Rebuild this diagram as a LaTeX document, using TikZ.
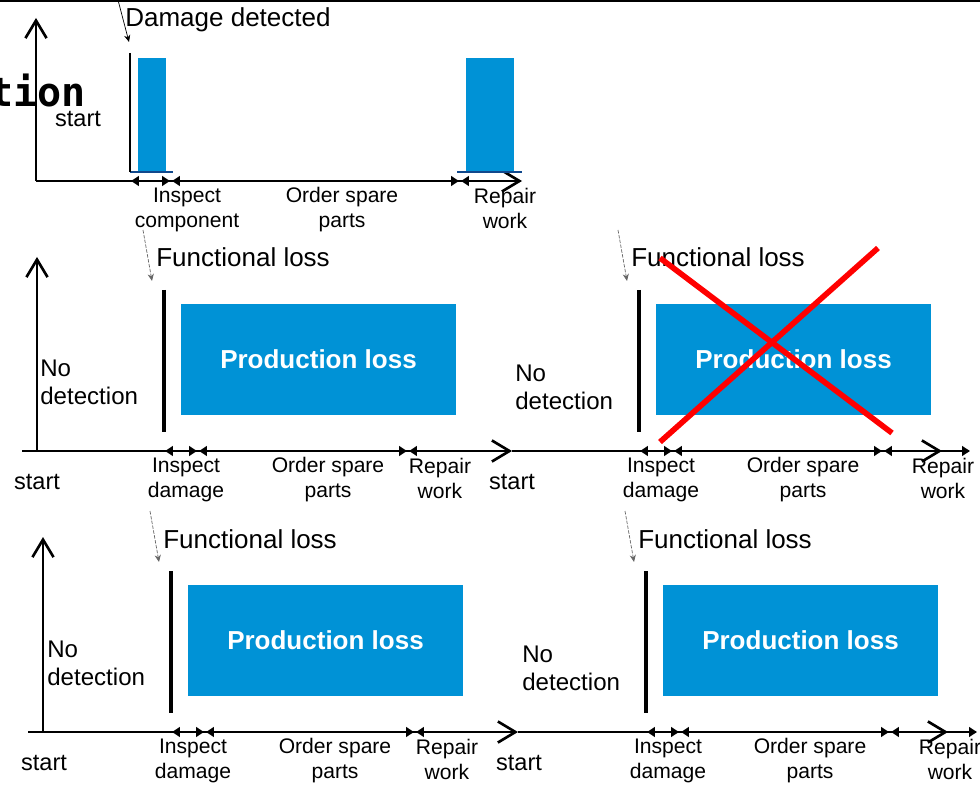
\documentclass[tikz,border=0pt]{standalone}
\usepackage{fontspec}
\setmainfont{Liberation Sans}
\newfontfamily\codefont{DejaVu Sans Mono}
\usetikzlibrary{arrows.meta}

\definecolor{lossblue}{RGB}{0,146,214}
\definecolor{stripnavy}{RGB}{16,72,140}
\definecolor{crossred}{RGB}{255,0,0}

\tikzset{
  chevron/.tip={Straight Barb[length=10pt,width=12pt]},
  dimtip/.tip={Triangle[length=4.5pt,width=5.5pt]},
  axisline/.style={line width=1.5pt, -chevron},
  dimboth/.style={line width=1.5pt, dimtip-dimtip},
  dimleft/.style={line width=1.5pt, dimtip-},
  annoline/.style={line width=0.4pt, black!60, dash pattern=on 2pt off 0.8pt,
    -{Stealth[length=4pt,width=3.5pt]}},
  annosolid/.style={line width=0.4pt, black, -{Stealth[length=4pt,width=3.5pt]}},
  lossbar/.style={line width=2.4pt},
  markline/.style={line width=1.7pt},
  navystrip/.style={line width=1.7pt, stripnavy},
  crossline/.style={line width=3.2pt, crossred},
  lossbox/.style={fill=lossblue, text=white, inner sep=0pt,
    font=\bfseries\fontsize{14.8}{17}\selectfont,
    minimum width=5.5cm, minimum height=2.22cm},
  headtext/.style={font=\fontsize{14.8}{17}\selectfont, inner sep=0pt},
  sidetext/.style={align=left, font=\fontsize{13.7}{16}\selectfont, inner sep=0pt},
  starttext/.style={font=\fontsize{13.4}{16}\selectfont, inner sep=0pt},
  steplabel/.style={align=center, font=\fontsize{12}{14.2}\selectfont, inner sep=0pt},
}

% One "no detection" time line: functional loss, production loss box and
% the inspect / order / repair intervals along the time axis.
% #1 name prefix, #2 shift, #3 y of "No detection", #4 x of "Repair work",
% #5 end x of the repair interval, #6 style of the repair interval
\newcommand\losspanel[6]{%
  \begin{scope}[shift={#2}, name prefix=#1-]
    \coordinate (annofrom) at (143,230);
    \coordinate (annoto) at (152,281);
    \draw[annoline] (annofrom) -- (annoto);
    \node[headtext, anchor=base west] (fl) at (156,267) {Functional loss};
    \coordinate (bartop) at (164,290);
    \coordinate (barbot) at (164,432);
    \draw[lossbar] (bartop) -- (barbot);
    \node[lossbox] (box) at (318.5,359.5) {Production loss};
    \node[sidetext, anchor=west] (nodet) at (40,#3) {No\\detection};
    \node[starttext, anchor=base] (start) at (37,489) {start};
    \coordinate (i0) at (165,451);
    \coordinate (i1) at (197,451);
    \coordinate (o0) at (199,451);
    \coordinate (o1) at (407,451);
    \coordinate (r0) at (409,451);
    \coordinate (r1) at (#5,451);
    \draw[dimboth] (i0) -- (i1);
    \draw[dimboth] (o0) -- (o1);
    \draw[#6] (r0) -- (r1);
    \node[steplabel] (li) at (186,480) {Inspect\\damage};
    \node[steplabel] (lo) at (328,480) {Order spare\\parts};
    \node[steplabel] (lr) at (#4,478) {Repair\\work};
  \end{scope}}

\begin{document}
\begin{tikzpicture}[x=0.02cm, y=-0.02cm]
  \useasboundingbox (0,0) rectangle (980,790);

  % frame edge along the top
  \coordinate (edgeL) at (0,0.8);
  \coordinate (edgeR) at (980,0.8);
  \draw[line width=0.9pt] (edgeL) -- (edgeR);

  % ---------- detected damage ----------
  \node[font=\codefont\bfseries\fontsize{22.8}{26}\selectfont, inner sep=0pt,
        anchor=base east] (tion) at (86,107) {tion};
  \node[starttext, anchor=base] (start1) at (78,127) {start};

  \coordinate (o1) at (36,181);
  \coordinate (y1) at (36,18);
  \coordinate (x1) at (522,181);
  \draw[axisline] (o1) -- (y1);
  \draw[axisline] (o1) -- (x1);

  \fill[lossblue] (138,58) rectangle (166,172);
  \fill[lossblue] (466,58) rectangle (514,172);
  \coordinate (s1a) at (130,172);
  \coordinate (s1b) at (173,172);
  \coordinate (s2a) at (457,172);
  \coordinate (s2b) at (522,172);
  \draw[navystrip] (s1a) -- (s1b);
  \draw[navystrip] (s2a) -- (s2b);
  \coordinate (dtop) at (130,53);
  \coordinate (dbot) at (130,172);
  \draw[markline] (dtop) -- (dbot);

  \node[headtext, anchor=base west] (dmg) at (125,27) {Damage detected};
  \coordinate (dmgfrom) at (118,0);
  \coordinate (dmgto) at (129,42);
  \draw[annosolid] (dmgfrom) -- (dmgto);

  \coordinate (ti0) at (131,181);
  \coordinate (ti1) at (170,181);
  \coordinate (to0) at (172,181);
  \coordinate (to1) at (459,181);
  \coordinate (tr0) at (461,181);
  \coordinate (tr1) at (515,181);
  \draw[dimboth] (ti0) -- (ti1);
  \draw[dimboth] (to0) -- (to1);
  \draw[dimleft] (tr0) -- (tr1);
  \node[steplabel] (tli) at (187,210) {Inspect\\component};
  \node[steplabel] (tlo) at (342,210) {Order spare\\parts};
  \node[steplabel] (tlr) at (505,208) {Repair\\work};

  % ---------- second row ----------
  \coordinate (o2) at (37,451);
  \coordinate (y2) at (37,257);
  \coordinate (a2s) at (22,451);
  \coordinate (a2m) at (512,451);
  \coordinate (a2e) at (942,451);
  \draw[axisline] (o2) -- (y2);
  \draw[axisline] (a2s) -- (a2m);
  \draw[axisline] (a2m) -- (a2e);
  \losspanel{bl}{(0,0)}{382.5}{440}{505}{dimleft}
  \losspanel{br}{(475,0)}{387.5}{468}{495}{dimboth}

  % crossed out production loss
  \coordinate (xa1) at (660,258);
  \coordinate (xa2) at (892,433);
  \coordinate (xb1) at (878,248);
  \coordinate (xb2) at (660,442);
  \draw[crossline] (xa1) -- (xa2);
  \draw[crossline] (xb1) -- (xb2);

  % ---------- third row ----------
  \coordinate (o3) at (43,732);
  \coordinate (y3) at (43,537);
  \coordinate (a3s) at (28,732);
  \coordinate (a3m) at (518,732);
  \coordinate (a3e) at (948,732);
  \draw[axisline] (o3) -- (y3);
  \draw[axisline] (a3s) -- (a3m);
  \draw[axisline] (a3m) -- (a3e);
  \losspanel{cl}{(7,281)}{382.5}{440}{505}{dimleft}
  \losspanel{cr}{(482,281)}{387.5}{468}{495}{dimboth}
\end{tikzpicture}
\end{document}
